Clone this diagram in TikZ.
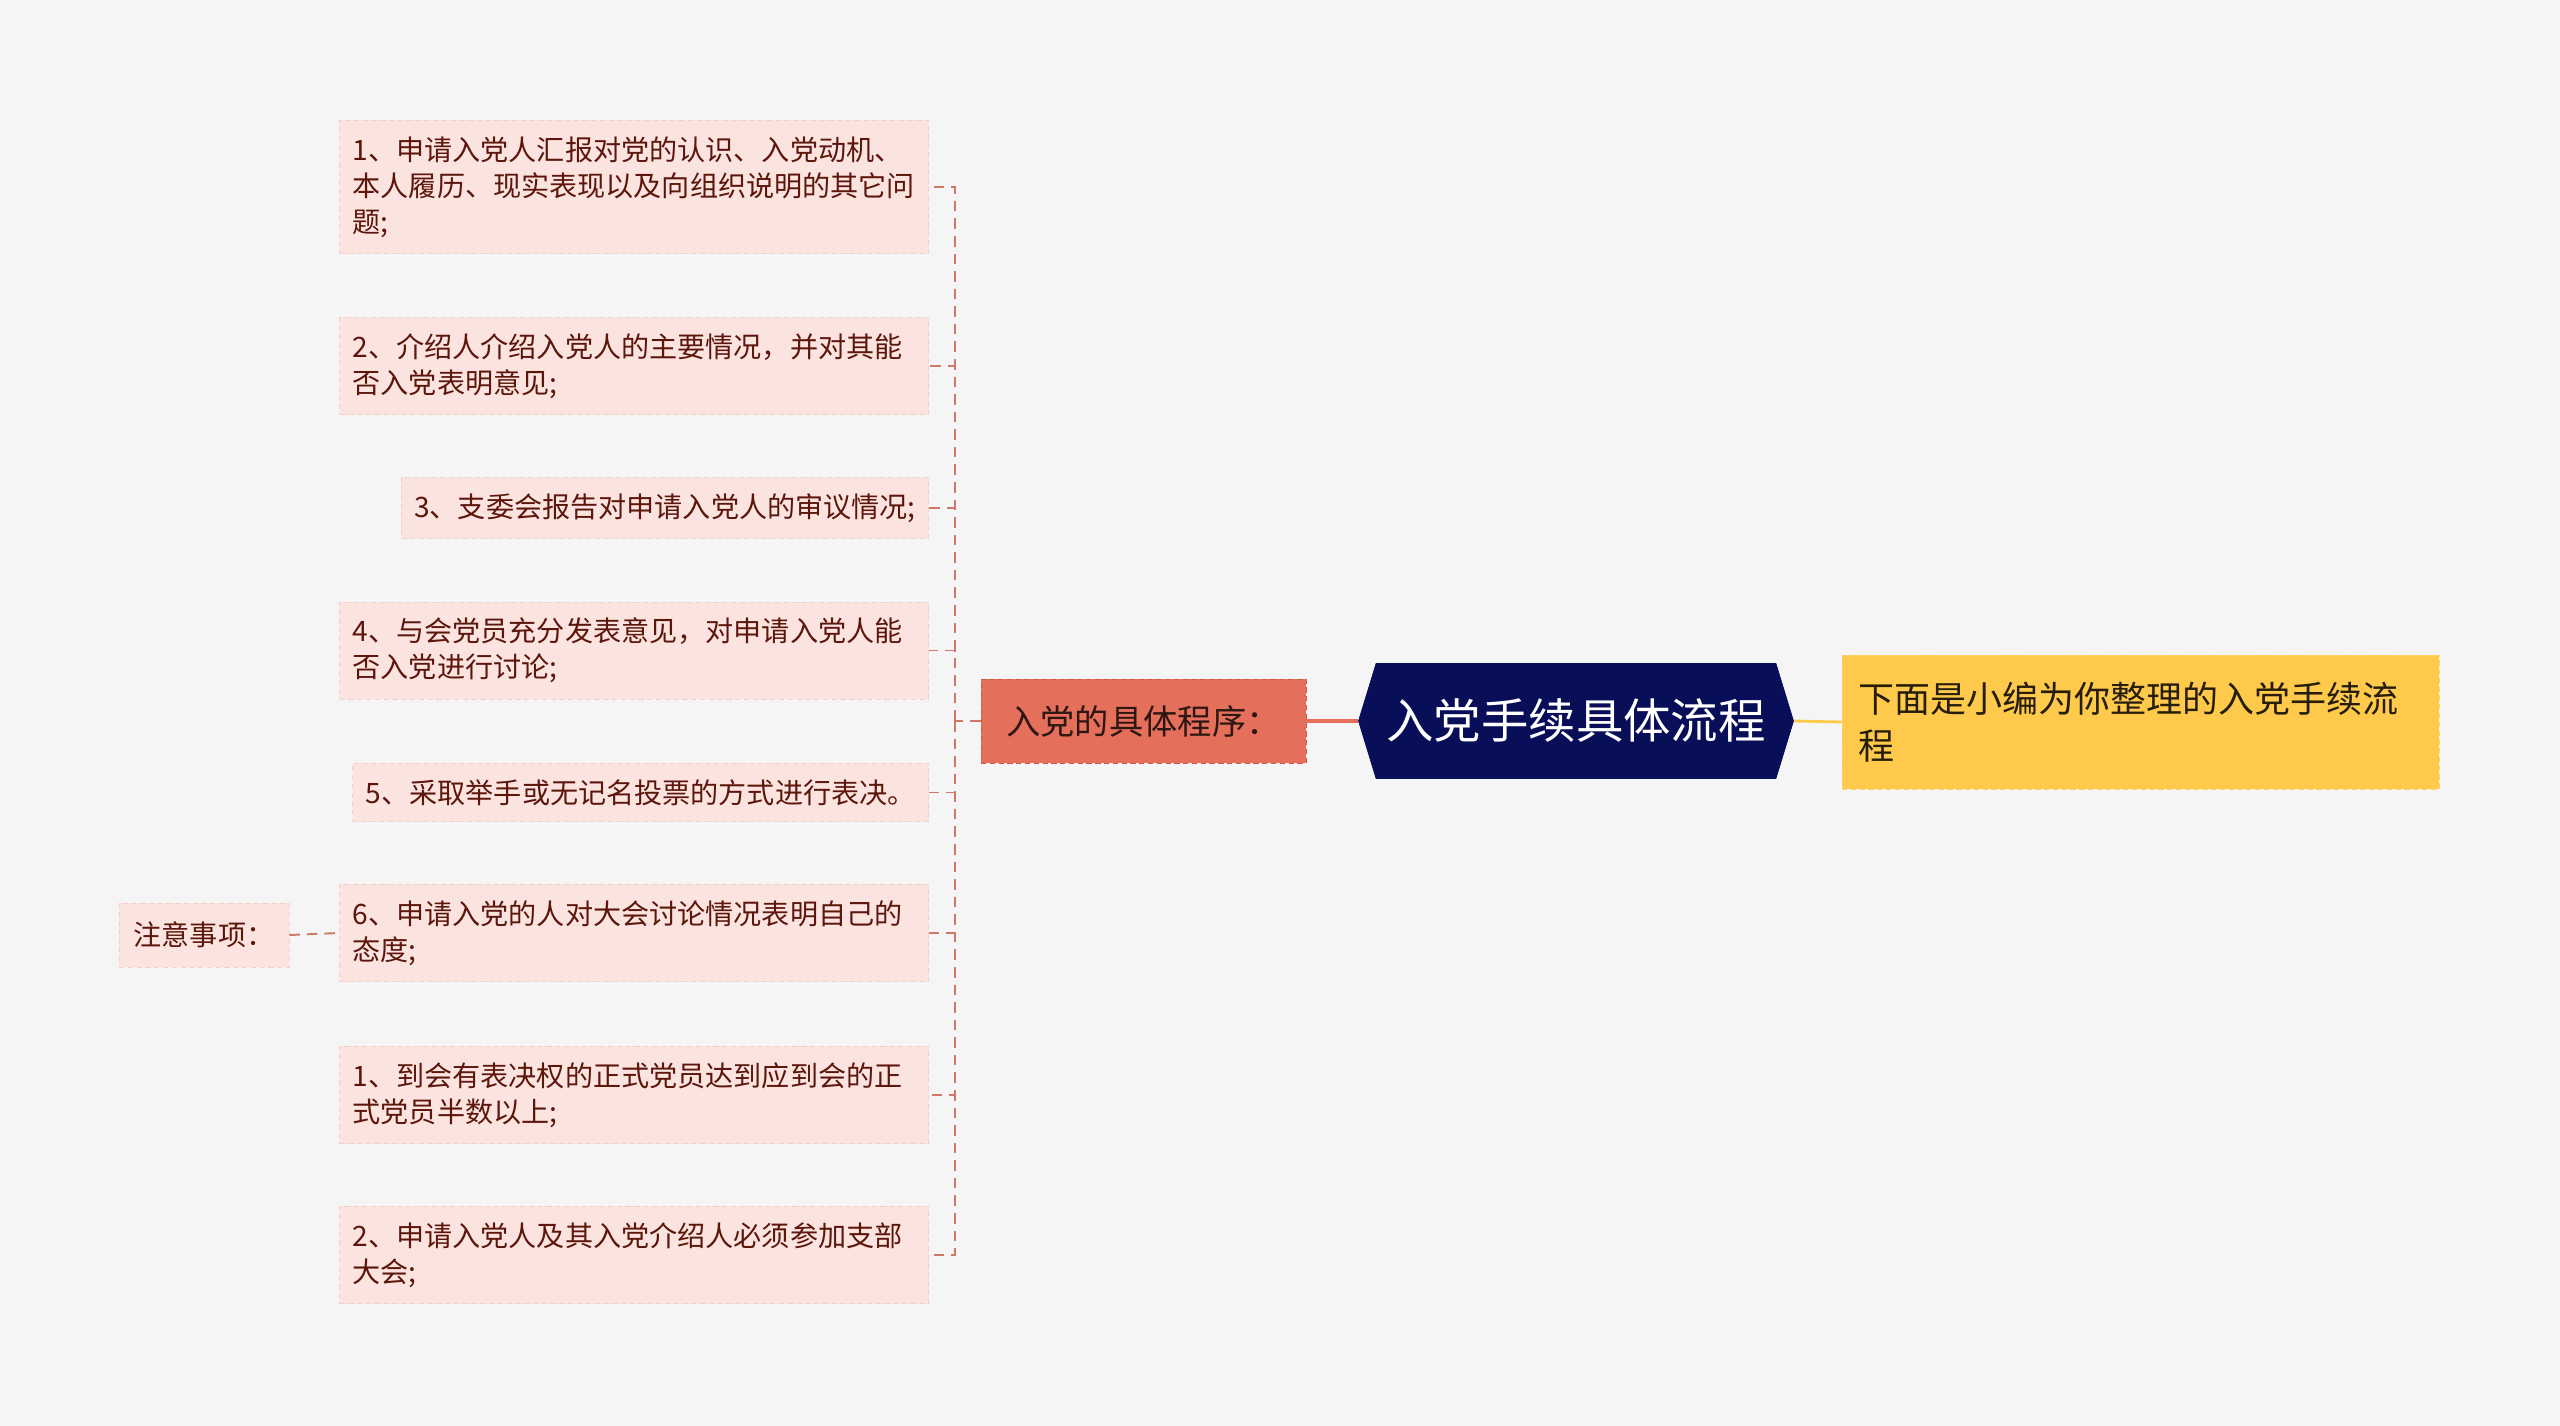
\documentclass[tikz,border=0pt]{standalone}
\usepackage{fontspec}
\setmainfont{Noto Sans CJK SC}
\usetikzlibrary{shapes.symbols,positioning}
\definecolor{bgGray}{RGB}{245,245,245}
\definecolor{rootNavy}{RGB}{9,14,88}
\definecolor{proCoral}{RGB}{228,112,92}
\definecolor{proEdge}{RGB}{206,92,72}
\definecolor{sumYellow}{RGB}{255,202,76}
\definecolor{sumEdge}{RGB}{246,214,110}
\definecolor{leafPink}{RGB}{251,228,223}
\definecolor{leafEdge}{RGB}{243,208,200}
\definecolor{leafText}{RGB}{92,22,12}
\definecolor{linkRed}{RGB}{206,120,106}

\begin{document}
\begin{tikzpicture}[
  leafbox/.style={fill=leafPink,draw=leafEdge,dash pattern=on 3pt off 2pt,text=leafText,font=\fontsize{16}{20.5}\selectfont,align=left,inner xsep=0.26cm,inner ysep=0.32cm,anchor=east},
  widebox/.style={leafbox,text width=11.26cm},
  rootbox/.style={signal,signal to=west and east,signal pointer angle=146,fill=rootNavy,draw=rootNavy,text=white,font=\fontsize{27}{32}\selectfont,minimum width=8.7cm,minimum height=2.3cm,inner sep=0pt},
  probox/.style={fill=proCoral,draw=proEdge,dash pattern=on 3pt off 2pt,text=black!80!proCoral,font=\fontsize{19.5}{24}\selectfont,minimum width=6.5cm,minimum height=1.68cm},
  sumbox/.style={fill=sumYellow,draw=sumEdge,dash pattern=on 3pt off 2pt,text=black!85!sumYellow,font=\fontsize{20.5}{27}\selectfont,align=left,text width=11.3cm,minimum height=2.68cm,inner xsep=0.32cm},
  link/.style={draw=linkRed,line width=1.1pt,dash pattern=on 6pt off 4pt}
]
\fill[bgGray] (0,0) rectangle (51.2,-28.52);
\useasboundingbox (0,0) rectangle (51.2,-28.52);

\node[rootbox] (root) at (31.52,-14.42) {入党手续具体流程};
\node[probox] (pro) at (22.87,-14.42) {入党的具体程序：};
\node[sumbox] (sum) at (42.81,-14.44) {下面是小编为你整理的入党手续流\\程};
\draw[proCoral,line width=2.2pt] (root.west) -- (pro.east);
\draw[sumYellow,line width=1.6pt] (root.east) -- (sum.west);

\node[widebox] (l1) at (18.58,-3.74) {1、申请入党人汇报对党的认识、入党动机、\\本人履历、现实表现以及向组织说明的其它问\\题;};
\node[widebox] (l2) at (18.58,-7.32) {2、介绍人介绍入党人的主要情况，并对其能\\否入党表明意见;};
\node[leafbox] (l3) at (18.58,-10.16) {3、支委会报告对申请入党人的审议情况;};
\node[widebox] (l4) at (18.58,-13.01) {4、与会党员充分发表意见，对申请入党人能\\否入党进行讨论;};
\node[leafbox] (l5) at (18.58,-15.85) {5、采取举手或无记名投票的方式进行表决。};
\node[widebox] (l6) at (18.58,-18.66) {6、申请入党的人对大会讨论情况表明自己的\\态度;};
\node[widebox] (l7) at (18.58,-21.9) {1、到会有表决权的正式党员达到应到会的正\\式党员半数以上;};
\node[widebox] (l8) at (18.58,-25.1) {2、申请入党人及其入党介绍人必须参加支部\\大会;};
\node[leafbox,anchor=center,minimum width=3.4cm,minimum height=1.28cm] (note) at (4.08,-18.7) {注意事项：};

\coordinate (trunk) at (19.1,-14.42);
\draw[link] (pro.west) -- (trunk);
\foreach \b in {l1,l2,l3,l4,l5,l6,l7,l8}{\draw[link] (trunk) |- (\b.east);}
\draw[link] (note.east) -- (l6.west);
\end{tikzpicture}
\end{document}
